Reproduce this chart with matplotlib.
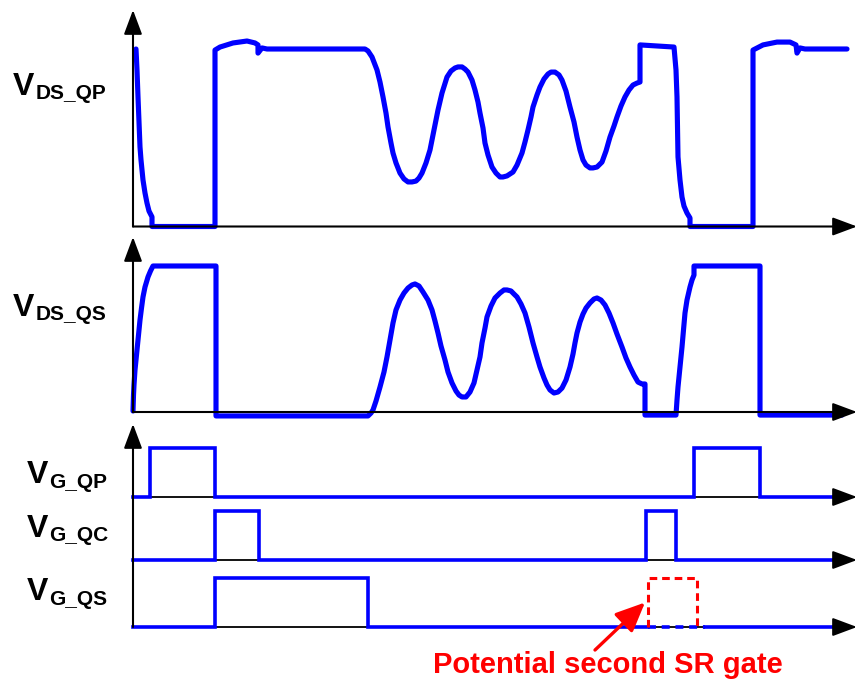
import matplotlib.pyplot as plt

plt.rcParams['font.family'] = ['Liberation Sans', 'DejaVu Sans']

# time in arbitrary units, 0 = vertical axis
t_end = 724

# V_DS_QP, normalised to the plateau level
qp_t = [3, 4, 5, 6, 7, 8, 10, 12, 14, 16, 19, 19, 82, 82, 87, 100, 114, 122, 125, 125,
        129, 134, 232,
        235, 239, 244, 247, 250, 253, 255, 258, 260, 263, 267, 271, 275, 279, 283, 286,
        289, 293, 297, 301, 305, 309, 314, 318, 322, 325, 329, 332, 335, 339, 342, 345,
        347, 350, 352, 355, 359, 363, 367, 370, 374, 377, 380, 384, 389, 392, 395, 398,
        400, 404, 407, 411, 415, 418, 422, 426, 429, 433, 437, 441, 444, 447, 450, 453,
        457, 460, 464, 469, 473, 477, 481, 484, 488, 492, 496, 500, 504, 507, 507,
        541, 543, 544, 544.5, 545, 547, 549, 551, 554, 557, 557, 620, 620, 630, 644, 657,
        663, 664, 667, 672, 714]
qp_v = [1.0, 0.882, 0.73, 0.589, 0.448, 0.375, 0.262, 0.189, 0.132, 0.087, 0.054, 0.0,
        0.0, 0.994, 1.011, 1.034, 1.045, 1.034, 1.023, 0.977, 1.006, 1.0, 1.0,
        0.989, 0.955, 0.882, 0.814, 0.73, 0.639, 0.561, 0.47, 0.414, 0.358, 0.301, 0.268,
        0.251, 0.251, 0.256, 0.273, 0.301, 0.358, 0.431, 0.544, 0.656, 0.752, 0.842,
        0.876, 0.893, 0.899, 0.899, 0.887, 0.87, 0.825, 0.769, 0.701, 0.639, 0.555, 0.47,
        0.403, 0.335, 0.301, 0.279, 0.279, 0.285, 0.296, 0.307, 0.346, 0.414, 0.476,
        0.544, 0.617, 0.673, 0.741, 0.786, 0.831, 0.859, 0.87, 0.87, 0.854, 0.825, 0.763,
        0.673, 0.589, 0.504, 0.431, 0.375, 0.346, 0.33, 0.33, 0.335, 0.363, 0.425, 0.504,
        0.566, 0.617, 0.679, 0.73, 0.769, 0.797, 0.808, 0.814, 1.023,
        1.011, 0.882, 0.73, 0.561, 0.392, 0.262, 0.166, 0.115, 0.076, 0.048, 0.0, 0.0,
        0.994, 1.023, 1.039, 1.039, 1.023, 0.977, 1.006, 1.0, 1.0]

# V_DS_QS, normalised to the plateau level
qs_t = [0, 0.5, 1, 2, 4, 5.5, 7, 8.5, 10, 12, 15, 17.5, 20, 83, 83, 235,
        238, 240, 243, 247, 251, 254, 257, 260, 263, 267, 271, 275, 279, 282, 286, 290,
        295, 299, 302, 305, 308, 312, 315, 319, 323, 326, 329, 333, 337, 341, 344, 347,
        349, 352, 354, 358, 362, 367, 371, 374, 378, 381, 384, 388, 392, 396, 400, 404,
        407, 411, 414, 417, 421, 425, 429, 433, 437, 440, 442, 444, 447, 450, 453, 457,
        461, 464, 468, 472, 476, 480, 484, 489, 493, 497, 501, 505, 509, 512, 512,
        543, 544, 545, 547, 549, 550.5, 552, 554, 557, 559, 561, 561, 627, 627, 709]
qs_v = [0.007, 0.116, 0.185, 0.288, 0.425, 0.527, 0.63, 0.712, 0.788, 0.856, 0.925,
        0.966, 1.0, 1.0, -0.027, -0.027,
        -0.007, 0.014, 0.075, 0.171, 0.274, 0.377, 0.493, 0.61, 0.699, 0.767, 0.815,
        0.849, 0.87, 0.877, 0.863, 0.822, 0.767, 0.699, 0.623, 0.541, 0.452, 0.356,
        0.274, 0.199, 0.144, 0.116, 0.103, 0.103, 0.137, 0.199, 0.288, 0.377, 0.473,
        0.575, 0.651, 0.726, 0.781, 0.815, 0.836, 0.836, 0.829, 0.808, 0.788, 0.74,
        0.678, 0.582, 0.473, 0.377, 0.308, 0.233, 0.185, 0.151, 0.13, 0.137, 0.164,
        0.219, 0.308, 0.397, 0.473, 0.541, 0.616, 0.671, 0.712, 0.747, 0.774, 0.781,
        0.767, 0.733, 0.678, 0.61, 0.534, 0.445, 0.37, 0.308, 0.253, 0.205, 0.192,
        0.192, -0.021,
        -0.021, 0.082, 0.171, 0.308, 0.445, 0.562, 0.678, 0.767, 0.856, 0.904, 0.938,
        1.0, 1.0, -0.021, -0.021]

# gate pulses as (on, off)
g_qp = [(17, 82), (561, 627)]
g_qc = [(82, 126), (513, 543)]
g_qs = [(82, 235)]
g_qs_potential = (515, 564)
gate_stop = 714

labels = ['DS_QP', 'DS_QS', 'G_QP', 'G_QC', 'G_QS']
note = 'Potential second SR gate'

W, H = 857, 680
BLUE = '#0000FF'
fig = plt.figure(figsize=(W / 100, H / 100), dpi=100)


def px_axes(x0, x1, ytop, ybot):
    ax = fig.add_axes([x0 / W, 1 - ybot / H, (x1 - x0) / W, (ybot - ytop) / H])
    ax.set_axis_off()
    return ax


def arrow(ax, p0, p1, color='k', lw=1.5):
    ax.annotate('', xy=p1, xytext=p0, annotation_clip=False,
                arrowprops=dict(arrowstyle='-|>,head_length=0.75,head_width=0.28',
                                mutation_scale=20, color=color, lw=lw,
                                shrinkA=0, shrinkB=0))


def steps(edges, stop, base=0.0):
    t, v = [0], [base]
    for on, off in edges:
        t += [on, on, off, off]
        v += [base, base + 1, base + 1, base]
    t.append(stop)
    v.append(base)
    return t, v


# panel 1: V_DS_QP
ax1 = px_axes(133, 857, 10, 226.5)
top1 = (226.5 - 10) / 177.5
ax1.set_xlim(0, t_end)
ax1.set_ylim(0, top1)
arrow(ax1, (0, 0), (0, top1))
arrow(ax1, (0, 0), (t_end, 0))
ax1.plot(qp_t, qp_v, color=BLUE, lw=3.7, clip_on=False,
         solid_joinstyle='round', solid_capstyle='round')

# panel 2: V_DS_QS
ax2 = px_axes(133, 857, 237, 412)
top2 = (412 - 237) / 146
ax2.set_xlim(0, t_end)
ax2.set_ylim(0, top2)
arrow(ax2, (0, 0), (0, top2))
arrow(ax2, (0, 0), (t_end, 0))
ax2.plot(qs_t, qs_v, color=BLUE, lw=3.7, clip_on=False,
         solid_joinstyle='round', solid_capstyle='round')

# panel 3: gate signals
ax3 = px_axes(133, 857, 424, 627)
top3 = (627 - 424) / 49
ax3.set_xlim(0, t_end)
ax3.set_ylim(0, top3)
offsets = [(627 - 497) / 49, (627 - 560) / 49, 0.0]
arrow(ax3, (0, 0), (0, top3))
for off, edges in zip(offsets, [g_qp, g_qc, g_qs]):
    ax3.plot([0, t_end - 8], [off, off], color='k', lw=1.3, clip_on=False)
    arrow(ax3, (t_end - 10, off), (t_end, off))
    t, v = steps(edges, gate_stop, off)
    if off == 0.0:
        # blue baseline is dashed under the potential gate
        cut = [i for i, x in enumerate(t) if x <= g_qs_potential[0]]
        tt = t[:cut[-1] + 1] + [g_qs_potential[0]]
        vv = v[:cut[-1] + 1] + [0]
        ax3.plot(tt, vv, color=BLUE, lw=2.6, clip_on=False, solid_joinstyle='miter')
        ax3.plot([g_qs_potential[0], g_qs_potential[1] + 8], [0, 0], color=BLUE,
                 lw=2.6, ls=(0, (2.2, 1.6)), clip_on=False)
        ax3.plot([g_qs_potential[1] + 8, gate_stop], [0, 0], color=BLUE, lw=2.6,
                 clip_on=False)
    else:
        ax3.plot(t, v, color=BLUE, lw=2.6, clip_on=False, solid_joinstyle='miter')

p0, p1 = g_qs_potential
ax3.plot([p0, p0, p1, p1], [0, 1, 1, 0], color='#FF0000', lw=2.2,
         ls=(0, (2.5, 1.6)), clip_on=False)
ax3.annotate('', xy=(512, 0.5), xytext=(462, -0.47), annotation_clip=False,
             arrowprops=dict(arrowstyle='-|>,head_length=0.9,head_width=0.4',
                             mutation_scale=20, color='#FF0000', lw=2.4,
                             shrinkA=0, shrinkB=0))
ax3.text(475, -0.94, note, color='#FF0000', fontsize=21, fontweight='bold',
         ha='center', va='baseline', clip_on=False)

# labels
label_pos = [(13, 95, 36, 99), (13, 316, 36, 320), (27, 483, 49, 488),
             (27, 537, 49, 541), (27, 600, 49, 605)]
for lab, (vx, vy, sx, sy) in zip(labels, label_pos):
    fig.text(vx / W, 1 - vy / H, 'V', fontsize=23, fontweight='bold', va='baseline')
    fig.text(sx / W, 1 - sy / H, lab, fontsize=15, fontweight='bold', va='baseline')

plt.savefig('out.png', dpi=100)
